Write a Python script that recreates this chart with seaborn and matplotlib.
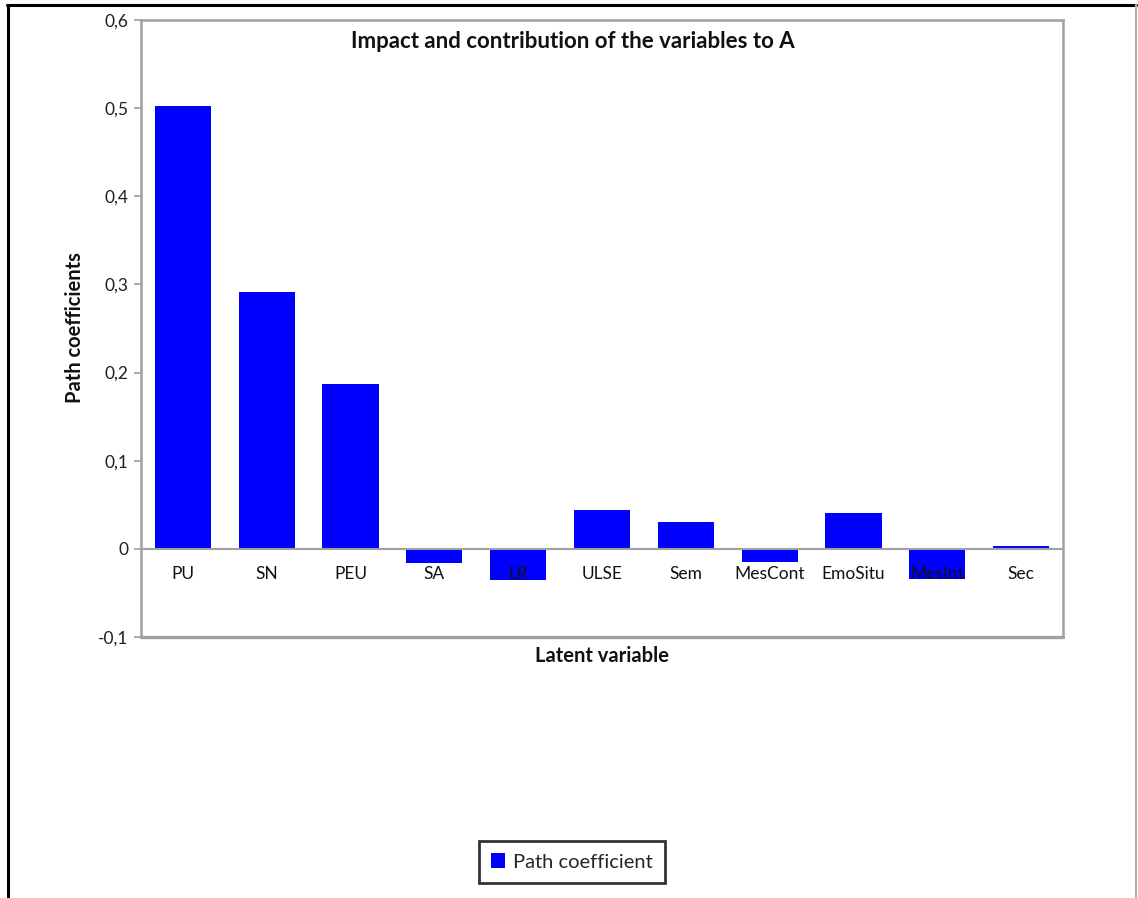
import matplotlib
matplotlib.use("Agg")
import matplotlib.pyplot as plt
from matplotlib.lines import Line2D
import seaborn as sns
import pandas as pd

categories = ["PU", "SN", "PEU", "SA", "LR", "ULSE", "Sem", "MesCont", "EmoSitu", "MesInt", "Sec"]
values = [0.502, 0.291, 0.1875, -0.016, -0.035, 0.044, 0.031, -0.015, 0.041, -0.034, 0.003]
y_ticks = [-0.1, 0.0, 0.1, 0.2, 0.3, 0.4, 0.5, 0.6]
y_tick_labels = ["-0,1", "0", "0,1", "0,2", "0,3", "0,4", "0,5", "0,6"]
title = "Impact and contribution of the variables to A"
series_name = "Path coefficient"

sns.set_theme(style="white")
plt.rcParams["font.family"] = ["Lato", "DejaVu Sans"]

W, H = 1138, 898
fig = plt.figure(figsize=(W / 100, H / 100), dpi=100)
ax = fig.add_axes([141 / W, 1 - 637 / H, (1063 - 141) / W, (637 - 20) / H])

df = pd.DataFrame({"cat": categories, "val": values})
sns.barplot(data=df, x="cat", y="val", color="#0000FF", saturation=1, width=0.67,
            ax=ax, label=series_name, legend=False)
for p in ax.patches:
    p.set_edgecolor("none")

ax.set_ylim(-0.1, 0.6)
ax.set_xlim(-0.5, len(categories) - 0.5)
ax.set_yticks(y_ticks)
ax.set_yticklabels(y_tick_labels, fontsize=12.5, color="#202020")
ax.tick_params(axis="y", which="both", left=True, length=5, width=1.2, color="#A0A0A0", direction="out", pad=4)

frame_col = "#A0A0A0"
for s in ["left", "right", "top", "bottom"]:
    ax.spines[s].set_color(frame_col)
    ax.spines[s].set_linewidth(1.8)
ax.spines["bottom"].set_position(("data", 0))
ax.spines["bottom"].set_linewidth(1.5)
ax.plot([0, 1], [0, 0], transform=ax.transAxes, color=frame_col, lw=2.4, clip_on=False, zorder=3)

ax.tick_params(axis="x", bottom=False, length=0, pad=12, labelsize=12.5, labelcolor="#111111")
ax.xaxis.set_zorder(5)
ax.set_xlabel("")
ax.set_ylabel("")

fig.text(573 / W, 1 - 42 / H, title, ha="center", va="center", fontsize=16, fontweight="bold", color="#111111")
fig.text(602 / W, 1 - 656 / H, "Latent variable", ha="center", va="center", fontsize=14.5, fontweight="bold", color="#111111")
fig.text(75 / W, 1 - 328 / H, "Path coefficients", ha="center", va="center", rotation=90, fontsize=14.5, fontweight="bold", color="#111111")

# outer chart border
fig.add_artist(Line2D([7 / W, 1136 / W], [1 - 4.5 / H, 1 - 4.5 / H], color="black", lw=2.2, transform=fig.transFigure))
fig.add_artist(Line2D([7.5 / W, 7.5 / W], [0, 1 - 4.5 / H], color="black", lw=2.2, transform=fig.transFigure))
fig.add_artist(Line2D([1136 / W, 1136 / W], [0, 1 - 4.5 / H], color="#B0B0B0", lw=1.5, transform=fig.transFigure))

handles, labels = ax.get_legend_handles_labels()
leg = fig.legend(handles[:1], [series_name], loc="center", bbox_to_anchor=(572 / W, 1 - 862 / H),
                 fontsize=14.5, frameon=True, fancybox=False, handlelength=0.7, handleheight=0.7,
                 handletextpad=0.4, borderpad=0.6, borderaxespad=0)
leg.get_frame().set_edgecolor("black")
leg.get_frame().set_linewidth(2)

fig.savefig("out.png", dpi=100, facecolor="white")
